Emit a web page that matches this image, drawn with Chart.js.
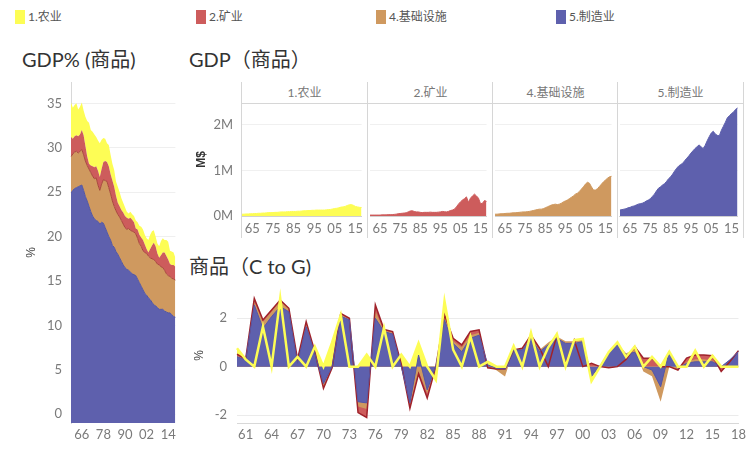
<!DOCTYPE html>
<html>
<head>
<meta charset="utf-8">
<script src="https://cdn.jsdelivr.net/npm/chart.js@4.4.1/dist/chart.umd.min.js"></script>
<style>
body{margin:0;width:750px;height:457px;position:relative;background:#fff;overflow:hidden;font-family:Lato,"Noto Sans CJK SC",sans-serif}
canvas{position:absolute}
.sw{position:absolute;top:10px;width:10px;height:14px}
.lg{position:absolute;top:10px;font-size:12px;line-height:14px;color:#555}
.ttl{position:absolute;top:47px;font-size:20px;line-height:24px;color:#333}
.hd{position:absolute;top:82px;height:21px;line-height:21px;width:125px;text-align:center;font-size:12px;color:#777}
.vl{position:absolute;top:82px;height:156px;width:1px;background:#d6d6d6}
.hl{position:absolute;top:103px;left:242px;width:502px;height:1px;background:#d6d6d6}
</style>
</head>
<body>
<div class="sw" style="left:15px;background:#fdfd55"></div><div class="lg" style="left:28px">1.农业</div>
<div class="sw" style="left:196px;background:#cd5c5c"></div><div class="lg" style="left:209px">2.矿业</div>
<div class="sw" style="left:376px;background:#cf995f"></div><div class="lg" style="left:389px">4.基础设施</div>
<div class="sw" style="left:556px;background:#5e60ad"></div><div class="lg" style="left:569px">5.制造业</div>

<div class="ttl" style="left:22px">GDP% (商品)</div>
<div class="ttl" style="left:189px">GDP（商品）</div>
<div class="ttl" style="left:189px;top:254px">商品（C to G)</div>

<div class="hd" style="left:242px">1.农业</div>
<div class="hd" style="left:368px">2.矿业</div>
<div class="hd" style="left:493px">4.基础设施</div>
<div class="hd" style="left:618px">5.制造业</div>
<div class="hl"></div>
<div class="vl" style="left:241px"></div>
<div class="vl" style="left:367px"></div>
<div class="vl" style="left:492px"></div>
<div class="vl" style="left:617px"></div>
<div class="vl" style="left:743px"></div>

<canvas id="pctChart" width="160" height="378" style="left:20px;top:72px"></canvas>
<canvas id="gdpAgri" width="178" height="147" style="left:190px;top:93px"></canvas>
<canvas id="gdpMining" width="125" height="147" style="left:368px;top:93px"></canvas>
<canvas id="gdpInfra" width="125" height="147" style="left:493px;top:93px"></canvas>
<canvas id="gdpManu" width="126" height="147" style="left:618px;top:93px"></canvas>
<canvas id="cgChart" width="562" height="179" style="left:188px;top:278px"></canvas>

<script>
// years 1960 - 2018
const years = []
for (let y = 1960; y <= 2018; y++) years.push(String(y))

// GDP% (商品) - share of GDP, %
const pctManu = [24.9,25.2,25.4,25.5,25.6,25.7,25.8,25.2,24.5,24.0,23.4,22.8,22.3,22.0,21.8,21.7,21.4,21.6,21.5,21.0,20.5,20.0,19.6,19.0,18.8,18.3,18.0,17.6,17.2,16.8,16.5,16.3,16.2,16.0,15.8,15.7,15.6,15.2,14.8,14.4,14.0,13.6,13.4,13.1,12.9,12.6,12.3,12.2,12.0,11.8,11.8,11.8,11.6,11.5,11.4,11.4,11.2,11.0,10.9]
const pctInfra = [4.1,4.1,4.1,4.1,3.8,3.9,4.0,4.0,4.0,4.0,4.2,4.4,4.5,4.5,4.8,4.1,3.8,4.3,4.9,5.3,5.7,5.5,5.2,5.0,4.6,4.6,4.5,4.6,4.6,4.6,4.5,4.5,4.7,4.7,4.8,4.8,4.7,4.6,4.4,4.5,4.4,4.6,4.7,4.7,4.7,4.9,5.1,5.0,4.9,5.0,4.8,4.7,4.6,4.3,4.2,4.1,4.1,4.2,4.2]
const pctMining = [2.2,1.7,1.8,1.8,1.9,1.9,2.2,2.2,1.7,1.0,0.6,0.8,1.1,1.3,1.3,1.6,1.5,1.7,2.0,2.2,2.2,2.4,2.2,2.3,2.2,1.7,1.3,1.2,1.2,1.3,1.3,1.3,1.1,1.4,1.3,1.1,0.6,1.0,1.0,1.0,1.2,0.9,0.5,0.4,1.0,1.5,1.9,1.7,1.2,0.8,1.3,1.7,2.0,2.0,1.8,1.4,1.5,1.6,1.5]
const pctAgri = [3.9,3.5,3.5,3.6,3.0,3.1,3.1,2.8,3.3,4.0,4.6,4.0,3.9,3.7,3.3,3.4,3.8,3.3,2.7,2.5,2.1,2.4,2.2,1.9,1.9,1.6,1.8,1.6,1.3,1.1,1.0,0.7,0.6,0.7,0.6,0.7,0.9,0.8,1.0,1.2,1.2,1.1,1.2,1.4,1.6,1.6,1.4,1.1,1.1,1.3,1.6,1.6,1.4,1.8,2.0,1.5,1.5,1.4,1.0]

// GDP（商品）- M$
const gdpAgri = [0.04,0.04,0.045,0.045,0.05,0.05,0.055,0.055,0.06,0.06,0.065,0.065,0.07,0.075,0.075,0.075,0.08,0.08,0.085,0.09,0.09,0.09,0.095,0.095,0.1,0.1,0.1,0.105,0.105,0.11,0.115,0.115,0.12,0.12,0.125,0.125,0.13,0.13,0.13,0.13,0.13,0.135,0.14,0.145,0.155,0.165,0.17,0.18,0.195,0.2,0.21,0.23,0.245,0.25,0.235,0.21,0.2,0.19,0.185]
const gdpMining = [0.02,0.02,0.02,0.02,0.02,0.02,0.025,0.025,0.025,0.03,0.03,0.03,0.035,0.04,0.05,0.055,0.06,0.065,0.07,0.09,0.11,0.115,0.1,0.09,0.09,0.08,0.075,0.08,0.08,0.08,0.085,0.08,0.08,0.08,0.085,0.09,0.1,0.095,0.09,0.1,0.12,0.13,0.15,0.2,0.26,0.31,0.35,0.38,0.42,0.3,0.39,0.44,0.48,0.44,0.39,0.27,0.28,0.34,0.32]
const gdpInfra = [0.04,0.04,0.045,0.05,0.05,0.055,0.06,0.06,0.065,0.07,0.07,0.075,0.08,0.085,0.09,0.09,0.095,0.1,0.11,0.12,0.13,0.14,0.15,0.15,0.16,0.18,0.2,0.22,0.24,0.25,0.26,0.25,0.26,0.28,0.31,0.33,0.35,0.38,0.41,0.44,0.48,0.5,0.54,0.59,0.64,0.7,0.74,0.72,0.64,0.57,0.57,0.6,0.65,0.7,0.75,0.79,0.83,0.86,0.87]
const gdpManu = [0.13,0.14,0.15,0.16,0.18,0.19,0.21,0.22,0.24,0.26,0.27,0.28,0.3,0.33,0.35,0.38,0.43,0.48,0.55,0.61,0.64,0.68,0.71,0.76,0.82,0.86,0.92,0.99,1.05,1.1,1.13,1.16,1.22,1.27,1.32,1.38,1.43,1.48,1.52,1.56,1.52,1.48,1.55,1.65,1.74,1.82,1.86,1.8,1.77,1.76,1.88,1.97,2.06,2.16,2.2,2.25,2.28,2.34,2.37]

// 商品（C to G) - %
const cgManu = [0.41,0.28,2.55,1.58,2.07,2.48,2.27,0.14,1.65,0.55,-0.7,0.0,2.09,1.93,-1.45,-1.5,2.0,1.45,1.35,0.0,-1.5,0.48,-0.96,0.0,1.93,0.96,0.62,1.17,1.3,0.07,-0.07,-0.1,0.69,0.69,1.17,0.62,0.9,1.17,0.96,0.96,1.03,-0.41,0.05,0.55,0.9,0.5,0.6,0.0,-0.14,-0.83,0.62,-0.07,0.14,0.2,0.2,0.2,0.0,0.28,0.62]
const cgInfra = [0.45,0.3,2.7,1.86,2.27,2.73,2.41,0.2,1.75,0.6,-0.83,-0.03,2.15,1.97,-1.65,-1.75,2.3,1.5,1.4,0.05,-1.6,-0.2,-1.1,-0.05,2.2,1.05,0.8,1.3,1.4,0.05,-0.15,-0.41,0.72,0.72,1.25,0.7,1.0,1.25,1.05,1.05,1.1,-0.3,0.0,0.6,0.95,0.55,0.7,-0.2,-0.4,-1.45,0.0,-0.15,0.2,0.3,0.3,0.25,-0.05,0.25,0.6]
const cgMining = [0.52,0.3,2.82,1.93,2.34,2.75,2.41,0.3,1.86,0.62,-0.9,-0.05,2.2,2.0,-1.9,-2.1,2.55,1.54,1.45,0.1,-1.72,-0.3,-1.3,0.0,2.13,1.17,0.9,1.45,1.52,-0.05,-0.1,-0.1,0.69,0.76,1.3,0.76,0.0,1.3,0.1,1.1,0.0,0.14,0.0,-0.05,0.0,0.3,0.83,0.35,0.35,0.0,0.0,-0.14,0.35,0.48,0.48,0.45,-0.2,0.2,0.66]
const cgAgri = [0.76,0.3,0,1.65,0,2.83,0,0.4,0,0.83,0,1.0,2.13,0,0,0.5,0,1.6,0,0.5,0,0.97,0,-0.55,2.7,0.7,0,1.24,0,0.2,0,0,0.85,0,1.4,0,0.8,1.35,0,1.1,1.15,-0.6,0,0.6,1.0,0.4,0.83,0,0.4,0,0.62,0,0,0.66,0,0.45,0,0,0]

const YELLOW = '#fdfd55'
const RED = '#cd5c5c'
const ORANGE = '#cf995f'
const BLUE = '#5e60ad'
const TICK = {family: 'Lato, sans-serif', size: 13}
const TICK_COLOR = '#7a7a7a'

// keep the plot area where the layout padding puts it
const noLabelPad = (s, w) => { s.width = w; s.paddingTop = 0; s.paddingBottom = 0 }

// left: stacked share of GDP
new Chart(document.getElementById('pctChart'), {
    type: 'line',
    data: {
        labels: years,
        datasets: [
            {label: '5.制造业', data: pctManu, backgroundColor: BLUE, borderColor: '#55579f', borderWidth: 1, fill: 'start'},
            {label: '4.基础设施', data: pctInfra, backgroundColor: ORANGE, borderColor: '#a8473c', borderWidth: 1, fill: '-1'},
            {label: '2.矿业', data: pctMining, backgroundColor: RED, borderColor: 'transparent', borderWidth: 0, fill: '-1'},
            {label: '1.农业', data: pctAgri, backgroundColor: YELLOW, borderColor: 'transparent', borderWidth: 0, fill: '-1'}
        ]
    },
    options: {
        responsive: false,
        animation: false,
        layout: {padding: {top: 10, right: 4, left: 0, bottom: 0}},
        elements: {point: {radius: 0}, line: {tension: 0}},
        plugins: {legend: {display: false}, tooltip: {enabled: false}},
        scales: {
            x: {
                grid: {display: false, drawTicks: false},
                border: {display: false},
                ticks: {
                    autoSkip: false, maxRotation: 0, padding: 4, color: TICK_COLOR, font: TICK,
                    callback: (v, i) => (years[i] - 1966) % 12 === 0 ? years[i].slice(2) : null
                },
                afterFit: (s) => { s.height = 27 }
            },
            y: {
                stacked: true,
                min: -1, max: 37.4,
                grid: {color: '#efefef', drawTicks: false},
                border: {color: '#d8d8d8'},
                ticks: {stepSize: 5, includeBounds: false, padding: 9, color: TICK_COLOR, font: TICK},
                title: {display: true, text: '%', color: '#444', font: {size: 12}},
                afterFit: (s) => noLabelPad(s, 51)
            }
        }
    }
});

// top: GDP small multiples
function gdpPanel(id, values, color, showAxis) {
    new Chart(document.getElementById(id), {
        type: 'line',
        data: {
            labels: years,
            datasets: [{data: values, backgroundColor: color, borderColor: color, borderWidth: 1, fill: 'origin'}]
        },
        options: {
            responsive: false,
            animation: false,
            layout: {padding: {top: 10, right: 1, left: 0, bottom: 0}},
            elements: {point: {radius: 0}, line: {tension: 0}},
            plugins: {legend: {display: false}, tooltip: {enabled: false}},
            scales: {
                x: {
                    grid: {display: false, drawTicks: false},
                    border: {color: '#d0d0d0'},
                    ticks: {
                        autoSkip: false, maxRotation: 0, padding: 5, color: TICK_COLOR, font: TICK,
                        callback: (v, i) => (years[i] - 1965) % 10 === 0 ? years[i].slice(2) : null
                    },
                    afterFit: (s) => { s.height = 24 }
                },
                y: {
                    min: 0, max: 2.48,
                    grid: {color: '#f0f0f0', drawTicks: false},
                    border: {display: false},
                    ticks: {
                        display: showAxis, stepSize: 1, includeBounds: false, padding: 9,
                        color: TICK_COLOR, font: TICK, callback: (v) => v + 'M'
                    },
                    title: {display: showAxis, text: 'M$', color: '#333', font: {size: 12, weight: 'bold'}},
                    afterFit: (s) => noLabelPad(s, showAxis ? 52 : 0)
                }
            }
        }
    });
}
gdpPanel('gdpAgri', gdpAgri, YELLOW, true)
gdpPanel('gdpMining', gdpMining, RED, false)
gdpPanel('gdpInfra', gdpInfra, ORANGE, false)
gdpPanel('gdpManu', gdpManu, BLUE, false)

// bottom: 商品（C to G)
new Chart(document.getElementById('cgChart'), {
    type: 'line',
    data: {
        labels: years,
        datasets: [
            {label: '1.农业', data: cgAgri, borderColor: YELLOW, borderWidth: 2.5, fill: false, order: 0},
            {label: '5.制造业', data: cgManu, backgroundColor: BLUE, borderColor: '#5456a6', borderWidth: 1, fill: 'origin', order: 1},
            {label: '4.基础设施', data: cgInfra, backgroundColor: ORANGE, borderColor: 'transparent', borderWidth: 0, fill: 'origin', order: 2},
            {label: '2.矿业', data: cgMining, backgroundColor: RED, borderColor: '#a0222a', borderWidth: 1.5, fill: 'origin', order: 3},
            {label: '1.农业', data: cgAgri, backgroundColor: YELLOW, borderColor: 'transparent', borderWidth: 0, fill: 'origin', order: 4}
        ]
    },
    options: {
        responsive: false,
        animation: false,
        layout: {padding: {top: 10, right: 10, left: 0, bottom: 0}},
        elements: {point: {radius: 0}, line: {tension: 0}},
        plugins: {legend: {display: false}, tooltip: {enabled: false}, filler: {drawTime: 'beforeDatasetsDraw'}},
        scales: {
            x: {
                grid: {display: false, drawTicks: false},
                border: {color: '#d8d8d8'},
                ticks: {
                    autoSkip: false, maxRotation: 0, padding: 4, color: TICK_COLOR, font: TICK,
                    callback: (v, i) => (years[i] - 1961) % 3 === 0 ? years[i].slice(2) : null
                },
                afterFit: (s) => { s.height = 34 }
            },
            y: {
                min: -2.33, max: 3.25,
                grid: {color: '#ebebeb', drawTicks: false},
                border: {display: false},
                ticks: {stepSize: 2, includeBounds: false, padding: 10, color: TICK_COLOR, font: TICK},
                title: {display: true, text: '%', color: '#444', font: {size: 12}},
                afterFit: (s) => noLabelPad(s, 49)
            }
        }
    }
});
</script>
</body>
</html>
